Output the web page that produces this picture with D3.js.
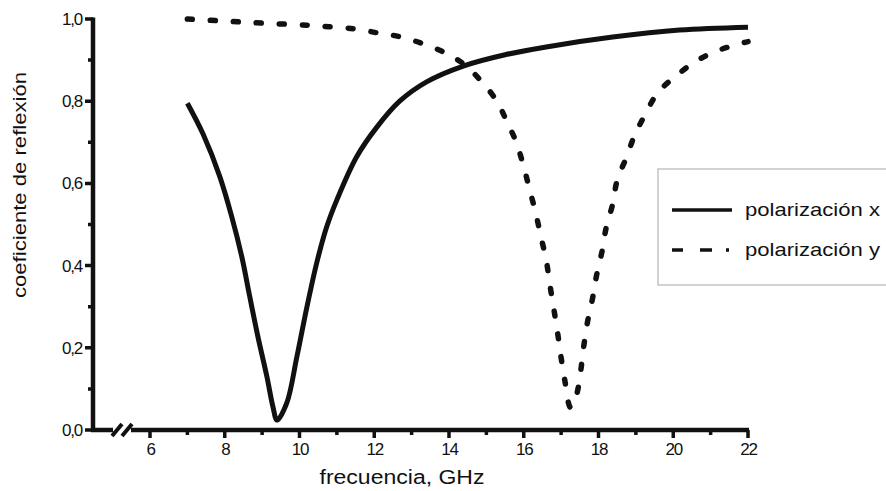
<!DOCTYPE html>
<html><head><meta charset="utf-8">
<script src="https://cdn.jsdelivr.net/npm/d3@7"></script>
<style>
html,body{margin:0;padding:0;background:#fff;}
svg text{font-family:"Liberation Sans",Arial,sans-serif;fill:#111;}
</style></head>
<body>
<svg id="c" width="886" height="491"></svg>
<script>
// ---- data ----
const freqX = [7, 7.42, 7.87, 8.19, 8.46, 8.67, 8.89, 9.13, 9.29, 9.40, 9.66, 9.93, 10.2, 10.47, 10.73, 11.0, 11.53, 12.07, 12.68, 13.4, 14.4, 15.5, 16.6, 18.38, 20.17, 22];
const valX  = [0.795, 0.72, 0.616, 0.518, 0.42, 0.324, 0.226, 0.129, 0.056, 0.024, 0.066, 0.178, 0.30, 0.41, 0.495, 0.56, 0.665, 0.737, 0.80, 0.847, 0.886, 0.913, 0.932, 0.956, 0.973, 0.98];
const freqY = [7, 8, 9, 10.2, 10.8, 11.48, 12.1, 12.68, 13.3, 13.89, 14.4, 14.85, 15.28, 15.55, 15.8, 16.0, 16.16, 16.32, 16.46, 16.6, 16.7, 16.8, 16.9, 16.99, 17.1, 17.25, 17.41, 17.52, 17.6, 17.7, 17.84, 17.95, 18.1, 18.2, 18.38, 18.5, 18.75, 18.97, 19.24, 19.58, 20.04, 20.57, 21.1, 21.78, 22];
const valY  = [1.0, 0.995, 0.99, 0.985, 0.981, 0.976, 0.966, 0.957, 0.94, 0.918, 0.89, 0.85, 0.80, 0.75, 0.70, 0.64, 0.584, 0.528, 0.47, 0.414, 0.353, 0.297, 0.24, 0.182, 0.12, 0.055, 0.085, 0.141, 0.2, 0.26, 0.32, 0.377, 0.437, 0.49, 0.55, 0.608, 0.664, 0.718, 0.766, 0.82, 0.859, 0.895, 0.92, 0.94, 0.945];
const xTicks = [6, 8, 10, 12, 14, 16, 18, 20, 22];
const xMinor = [7, 9, 11, 13, 15, 17, 19, 21];
const yTicks = [0, 0.2, 0.4, 0.6, 0.8, 1.0];
const yMinor = [0.1, 0.3, 0.5, 0.7, 0.9];
const legendLabels = ["polarización x", "polarización y"];
const xTitle = "frecuencia, GHz";
const yTitle = "coeficiente de reflexión";

// ---- layout ----
const svg = d3.select("#c");
const x = d3.scaleLinear().domain([6, 22]).range([150, 748]);
const y = d3.scaleLinear().domain([0, 1]).range([430, 19]);
const axisLeftX = 93;
const fmt = d => d3.format(".1f")(d).replace(".", ",");
const ink = "#111";

// y axis labels through d3 axis
const gy = svg.append("g").attr("transform", `translate(${axisLeftX},0)`);
gy.call(d3.axisLeft(y).tickValues(yTicks).tickFormat(fmt).tickSize(7).tickPadding(4));
gy.select(".domain").remove();
gy.selectAll(".tick line").remove();
gy.selectAll(".tick text").attr("font-size", 17).attr("letter-spacing", -1.2).attr("fill", ink);

const marks = svg.append("g").attr("fill", "none").attr("stroke", ink);
marks.append("path").attr("stroke-width", 4.5)
  .attr("d", `M${axisLeftX},${y(0) + 2}V${y(1) - 1.5}`);
marks.append("path").attr("stroke-width", 3.5)
  .attr("d", yTicks.map(v => `M${axisLeftX},${y(v)}h-8`).join("") + yMinor.map(v => `M${axisLeftX},${y(v)}h-5`).join(""));

// x axis labels through d3 axis
const gx = svg.append("g").attr("transform", `translate(0,${y(0)})`);
gx.call(d3.axisBottom(x).tickValues(xTicks).tickFormat(d3.format("d")).tickSize(8).tickPadding(5));
gx.select(".domain").remove();
gx.selectAll(".tick line").remove();
gx.selectAll(".tick text").attr("font-size", 17).attr("letter-spacing", -1.2).attr("fill", ink);
marks.append("path").attr("stroke-width", 3.5)
  .attr("d", xTicks.map(v => `M${x(v)},${y(0)}v8`).join("") + xMinor.map(v => `M${x(v)},${y(0)}v5`).join(""));
marks.append("path").attr("stroke-width", 4.5)
  .attr("d", `M${axisLeftX - 2},${y(0)}H113M131,${y(0)}H${x(22) + 1}`);
marks.append("path").attr("stroke-width", 4)
  .attr("d", `M112,${y(0) + 6}l10,-12M122,${y(0) + 6}l10,-12`);

// titles
svg.append("text").attr("x", 402).attr("y", 484).attr("text-anchor", "middle")
  .attr("font-size", 20).attr("textLength", 165).attr("lengthAdjust", "spacingAndGlyphs").text(xTitle);
svg.append("text").attr("transform", "translate(26,185) rotate(-90)").attr("text-anchor", "middle")
  .attr("font-size", 19).attr("textLength", 226).attr("lengthAdjust", "spacingAndGlyphs").text(yTitle);

// curves
const line = d3.line().x(d => x(d[0])).y(d => y(d[1])).curve(d3.curveCatmullRom.alpha(0.5));
svg.append("path").datum(freqY.map((f, i) => [f, valY[i]])).attr("d", line)
  .attr("fill", "none").attr("stroke", ink).attr("stroke-width", 5.5)
  .attr("stroke-linecap", "round").attr("stroke-dasharray", "5,18");
svg.append("path").datum(freqX.map((f, i) => [f, valX[i]])).attr("d", line)
  .attr("fill", "none").attr("stroke", ink).attr("stroke-width", 5)
  .attr("stroke-linejoin", "round");

// legend
const lg = svg.append("g");
lg.append("rect").attr("x", 658).attr("y", 169).attr("width", 260).attr("height", 116)
  .attr("fill", "#fff").attr("stroke", "#b5b5b5").attr("stroke-width", 1.2);
lg.append("line").attr("x1", 672).attr("x2", 732).attr("y1", 210).attr("y2", 210)
  .attr("stroke", ink).attr("stroke-width", 3.5);
lg.append("line").attr("x1", 672).attr("x2", 730).attr("y1", 250).attr("y2", 250)
  .attr("stroke", ink).attr("stroke-width", 3.5).attr("stroke-dasharray", "11,17,12,14,3,60");
legendLabels.forEach((t, i) => {
  lg.append("text").attr("x", 745).attr("y", 216 + i * 40).attr("font-size", 19)
    .attr("textLength", 135).attr("lengthAdjust", "spacingAndGlyphs").text(t);
});
</script>
</body></html>
